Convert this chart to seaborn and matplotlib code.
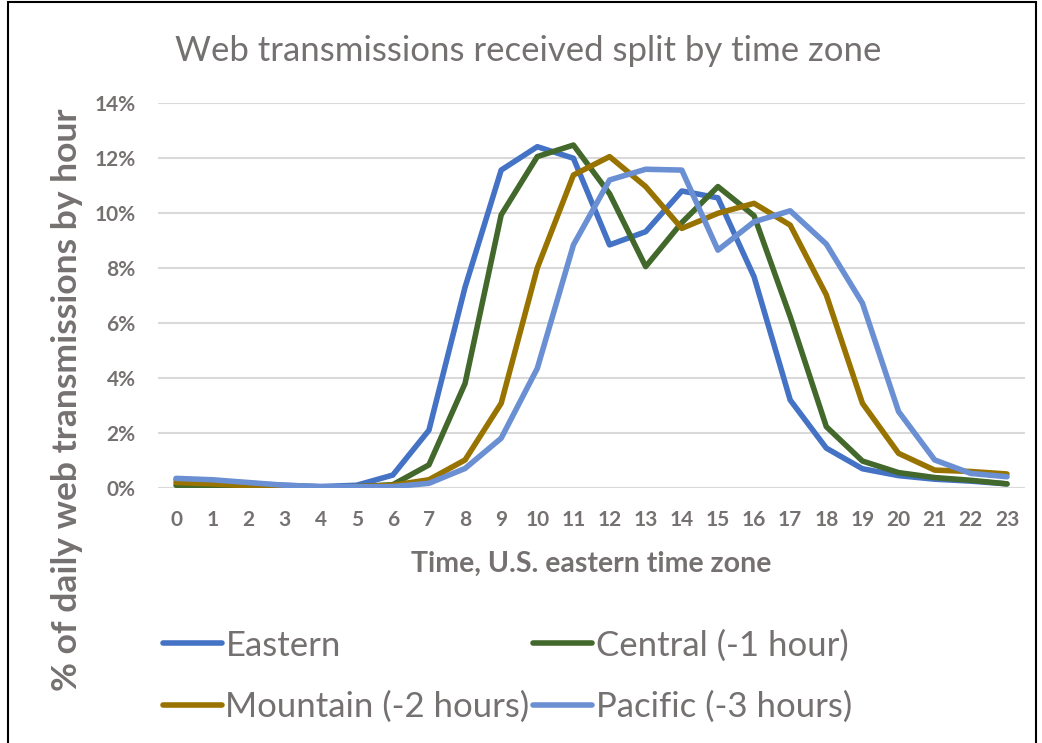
import matplotlib
matplotlib.use("Agg")
from matplotlib import pyplot as plt
from matplotlib.patches import Rectangle
from matplotlib.ticker import FuncFormatter
import seaborn as sns
import pandas as pd

# hourly share of daily web transmissions (%)
hours = list(range(24))
eastern = [0.30, 0.25, 0.15, 0.10, 0.05, 0.10, 0.47, 2.10, 7.30, 11.56, 12.41, 11.99,
           8.84, 9.32, 10.80, 10.55, 7.68, 3.20, 1.45, 0.70, 0.45, 0.32, 0.25, 0.15]
central = [0.10, 0.06, 0.04, 0.03, 0.03, 0.05, 0.12, 0.84, 3.80, 9.93, 12.05, 12.47,
           10.70, 8.05, 9.65, 10.96, 9.90, 6.23, 2.23, 0.98, 0.56, 0.38, 0.28, 0.15]
mountain = [0.20, 0.15, 0.08, 0.05, 0.03, 0.05, 0.10, 0.30, 1.02, 3.08, 8.00, 11.38,
            12.05, 10.96, 9.44, 9.99, 10.35, 9.56, 7.02, 3.08, 1.26, 0.65, 0.60, 0.51]
pacific = [0.35, 0.30, 0.20, 0.10, 0.05, 0.05, 0.05, 0.17, 0.71, 1.81, 4.35, 8.84,
           11.20, 11.59, 11.56, 8.65, 9.68, 10.08, 8.87, 6.72, 2.78, 1.02, 0.53, 0.41]

series_names = ['Eastern', 'Central (-1 hour)', 'Mountain (-2 hours)', 'Pacific (-3 hours)']
series_values = [eastern, central, mountain, pacific]
colors = ['#4472C4', '#43682B', '#997300', '#6A8FD2']

df = pd.concat([pd.DataFrame({'hour': hours, 'pct': v, 'zone': n})
                for n, v in zip(series_names, series_values)], ignore_index=True)

sns.set_style('white')
plt.rcParams['font.family'] = ['Lato', 'DejaVu Sans']
grey = '#767171'

fig = plt.figure(figsize=(10.42, 7.43), dpi=100)
ax = fig.add_axes([0.1516, 0.3432, 0.8321, 0.5182])

sns.lineplot(data=df, x='hour', y='pct', hue='zone', hue_order=series_names,
             palette=colors, linewidth=4.0, ax=ax, legend=False)

ax.set_xlim(-0.5, 23.5)
ax.set_ylim(0, 14)
ax.set_xticks(hours)
ax.set_yticks(range(0, 15, 2))
ax.yaxis.set_major_formatter(FuncFormatter(lambda v, p: f'{v:.0f}%'))
ax.grid(axis='y', color='#D9D9D9', linewidth=1.5)
ax.set_axisbelow(True)
for s in ax.spines.values():
    s.set_visible(False)
ax.tick_params(axis='both', length=0, labelsize=15, labelcolor=grey)
ax.tick_params(axis='y', pad=16)
ax.tick_params(axis='x', pad=16)
for lab in ax.get_xticklabels() + ax.get_yticklabels():
    lab.set_fontweight('bold')

ax.set_xlabel('Time, U.S. eastern time zone', fontsize=20.5, fontweight='bold',
              color=grey, labelpad=15)
ax.set_ylabel('% of daily web transmissions by hour', fontsize=25.5, fontweight='bold',
              color=grey)
ax.yaxis.set_label_coords(-0.0865, 0.229)

fig.text(0.507, 0.931, 'Web transmissions received split by time zone',
         fontsize=25, color=grey, ha='center', va='center')

# legend: rows Eastern/Central and Mountain/Pacific
handles = [plt.Line2D([], [], color=c, linewidth=4) for c in colors]
order = [0, 2, 1, 3]
leg = fig.legend([handles[i] for i in order], [series_names[i] for i in order],
                 ncol=2, loc='upper left', bbox_to_anchor=(0.1564, 0.153),
                 frameon=False, fontsize=25, handlelength=1.7, handletextpad=0.1,
                 columnspacing=0.1, labelspacing=0.84, borderaxespad=0, borderpad=0)
for t in leg.get_texts():
    t.set_color(grey)

fig.patches.append(Rectangle((8 / 1042, -0.1), 1028 / 1042, 1.097, fill=False,
                             edgecolor='black', linewidth=1.5, transform=fig.transFigure))

fig.savefig('out.png', dpi=100)
